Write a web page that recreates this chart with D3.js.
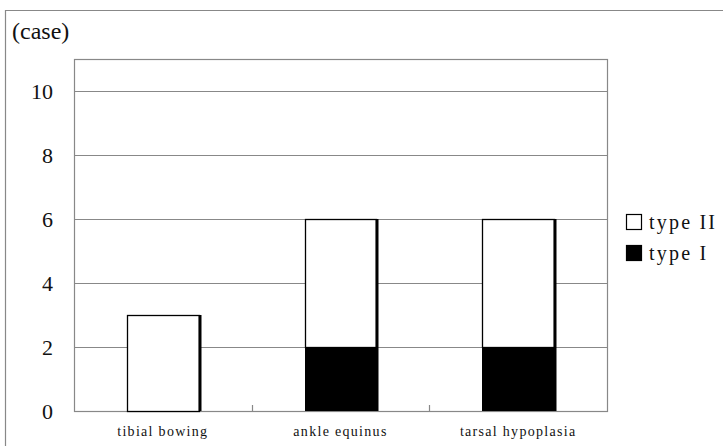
<!DOCTYPE html>
<html><head><meta charset="utf-8">
<script src="https://cdn.jsdelivr.net/npm/d3@7"></script>
<style>body{margin:0;background:#fff}svg{display:block}
.serif{font-family:"Liberation Serif","Times New Roman","DejaVu Serif",serif}</style>
</head><body>
<script>
const categories = ["tibial bowing", "ankle equinus", "tarsal hypoplasia"];
const typeI = [0, 2, 2];
const typeII = [3, 4, 4];
const yTicks = [0, 2, 4, 6, 8, 10];
const seriesNames = ["type II", "type I"];

const W = 723, H = 446;
const m = {left: 74, top: 59, right: 607, bottom: 411};
const svg = d3.select("body").append("svg").attr("width", W).attr("height", H);

// outer frame
svg.append("path").attr("d", `M5.5,${H} V10.5 H${W}`).attr("fill","none").attr("stroke","#888").attr("stroke-width",1.2);

const x = d3.scaleBand().domain(categories).range([m.left, m.right]).padding(0);
const y = d3.scaleLinear().domain([0, 11]).range([m.bottom, m.top]);

// plot border
svg.append("rect").attr("x", m.left+0.5).attr("y", m.top+0.5)
  .attr("width", m.right-m.left).attr("height", m.bottom-m.top)
  .attr("fill","none").attr("stroke","#888").attr("stroke-width",1.2);

// gridlines
svg.append("g").selectAll("line").data(yTicks.filter(d=>d>0)).join("line")
  .attr("x1", m.left).attr("x2", m.right)
  .attr("y1", d=>Math.round(y(d))+0.5).attr("y2", d=>Math.round(y(d))+0.5)
  .attr("stroke","#888").attr("stroke-width",1.2);

// y axis labels
const yAxis = d3.axisLeft(y).tickValues(yTicks).tickSize(0).tickPadding(21);
const ga = svg.append("g").attr("transform",`translate(${m.left},0)`).call(yAxis);
ga.select(".domain").remove();
ga.attr("font-family",null).attr("font-size",null);
ga.selectAll("text").attr("class","serif").attr("font-size",22).attr("fill","#111");

// category tick marks (inward)
svg.append("g").selectAll("line").data(categories.slice(1)).join("line")
  .attr("x1", d=>Math.round(x(d))+0.5).attr("x2", d=>Math.round(x(d))+0.5)
  .attr("y1", m.bottom).attr("y2", m.bottom-6)
  .attr("stroke","#888").attr("stroke-width",1.2);

// x labels
const xAxis = d3.axisBottom(x).tickSize(0).tickPadding(15);
const gx = svg.append("g").attr("transform",`translate(0,${m.bottom})`).call(xAxis);
gx.select(".domain").remove();
gx.attr("font-family",null).attr("font-size",null);
gx.selectAll("text").attr("class","serif").attr("font-size",14)
  .attr("letter-spacing","1.3px").attr("fill","#111");

// bars
const bw = x.bandwidth()*0.405;
const bars = svg.append("g");
categories.forEach((c,i)=>{
  const cx = x(c) + x.bandwidth()/2;
  const x0 = Math.round(cx - bw/2);
  const x1 = Math.round(cx + bw/2);
  const yb = y(0), y1 = y(typeI[i]), y2 = y(typeI[i]+typeII[i]);
  if (typeI[i] > 0) {
    bars.append("rect").attr("x",x0).attr("y",y1).attr("width",x1-x0).attr("height",yb-y1).attr("fill","#000");
  }
  bars.append("rect").attr("x",x0+0.5).attr("y",y2+0.5).attr("width",x1-x0).attr("height",y1-y2)
    .attr("fill","#fff").attr("stroke","#000").attr("stroke-width",1.3);
  bars.append("line").attr("x1",x1+1).attr("x2",x1+1).attr("y1",y2).attr("y2",yb)
    .attr("stroke","#000").attr("stroke-width",3);
});

// y unit label
svg.append("text").attr("class","serif").attr("x",12).attr("y",39).text("(case)")
  .attr("font-size",24).attr("fill","#111");

// legend
const lg = svg.append("g");
seriesNames.forEach((s,i)=>{
  const yy = 214 + i*31;
  lg.append("rect").attr("x",626.5).attr("y",yy+0.5).attr("width",15).attr("height",15)
    .attr("fill", i===0 ? "#fff" : "#000").attr("stroke","#000").attr("stroke-width",1.2);
  lg.append("text").attr("class","serif").attr("x",649).attr("y",yy+15).text(s)
    .attr("font-size",20).attr("letter-spacing","2.2px").attr("fill","#111");
});
</script>
</body></html>
